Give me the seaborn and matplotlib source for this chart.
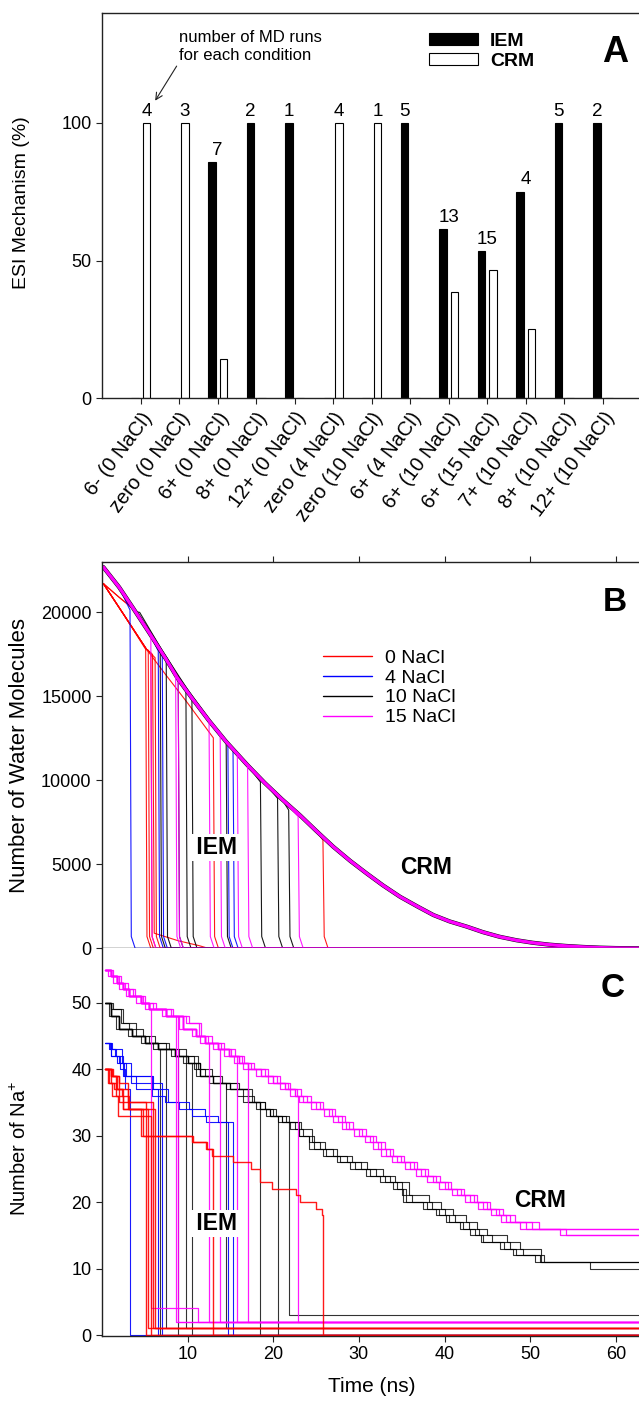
import numpy as np
import pandas as pd
import matplotlib
matplotlib.use('Agg')
import matplotlib.pyplot as plt
from matplotlib.patches import Patch
from matplotlib.lines import Line2D
import seaborn as sns

sns.set_style('ticks')
plt.rcParams['font.family'] = ['Liberation Sans', 'DejaVu Sans']
plt.rcParams['mathtext.default'] = 'regular'
plt.rcParams['text.color'] = 'black'
plt.rcParams['axes.labelcolor'] = 'black'
plt.rcParams['xtick.labelcolor'] = 'black'
plt.rcParams['ytick.labelcolor'] = 'black'

# ---------------- Panel A data ----------------
CONDITIONS = ['6- (0 NaCl)', 'zero (0 NaCl)', '6+ (0 NaCl)', '8+ (0 NaCl)', '12+ (0 NaCl)',
              'zero (4 NaCl)', 'zero (10 NaCl)', '6+ (4 NaCl)', '6+ (10 NaCl)', '6+ (15 NaCl)',
              '7+ (10 NaCl)', '8+ (10 NaCl)', '12+ (10 NaCl)']
IEM_PCT = [0, 0, 85.7, 100, 100, 0, 0, 100, 61.5, 53.3, 75, 100, 100]
CRM_PCT = [100, 100, 14.3, 0, 0, 100, 100, 0, 38.5, 46.7, 25, 0, 0]
N_RUNS = [4, 3, 7, 2, 1, 4, 1, 5, 13, 15, 4, 5, 2]

# ---------------- Panel B data (water molecules) ----------------
T_END = 63
MAIN_T = [0.15, 2.0, 3.65, 5.5, 7.5, 8.8, 10.5, 12.5, 14.5, 17.0, 19.0, 21.0, 23.1, 25.0, 27.0,
          29.0, 30.9, 32.8, 34.8, 36.8, 38.7, 40.6, 42.6, 44.5, 46.4, 48.4, 50.3, 52.2, 54.2,
          56.2, 58.1, 60.0, 62.0, 63.0]
MAIN_N = [22700, 21500, 20240, 18800, 17200, 16100, 14900, 13550, 12300, 10900, 9850, 8880,
          7930, 7000, 6050, 5200, 4460, 3750, 3070, 2500, 1980, 1600, 1290, 960, 690, 480,
          330, 220, 140, 80, 40, 15, 5, 0]
RED_LOW_T = [0.15, 2.5, 5.2, 7.5, 10.0, 13.0]
RED_LOW_N = [21720, 19900, 17800, 16250, 14600, 12530]
RED_UP_T = [0.15, 2.0, 3.8]
RED_UP_N = [21720, 20900, 20150]
BLACK_UP_T = [0.15, 2.0, 3.9, 4.4, 7.0, 10.0, 12.5]
BLACK_UP_N = [22700, 21500, 20050, 20000, 17750, 15400, 13650]
# foot of an IEM drop (time after drop, molecules)
FOOT_DT = [0.15, 0.6]
FOOT_N = [700, 0]
RED_TAIL_DT = [0.2, 3.0, 5.5, 6.5]
RED_TAIL_N = [900, 450, 150, 0]
RED_TAIL_RUN = 3

# IEM runs: drop times shared by B and C
RED_DROP = [5.1, 5.4, 5.7, 5.9, 6.2, 13.0, 25.8]
RED_TOP_B = [17800, 17750, 17600, 17500, 17300, 12530, 6440]
RED_BASE_B = ['low', 'low', 'low', 'low', 'low', 'low', 'up']
BLUE_DROP = [3.27, 6.57, 7.04, 14.7, 15.3]
BLUE_TOP_B = [20140, 17700, 17350, 12200, 11850]
BLACK_DROP = [6.8, 7.5, 8.9, 9.8, 10.5, 14.5, 18.5, 20.5, 21.8]
BLACK_TOP_B = [17600, 17060, 15850, 15275, 14880, 12300, 9900, 8930, 8230]
MAG_DROP = [5.7, 8.6, 8.9, 12.5, 13.8, 15.8, 17.0, 22.9]
MAG_TOP_B = [18700, 16150, 15970, 13550, 12800, 11600, 10910, 7850]

# ---------------- Panel C data (Na+ count) ----------------
RED_PRE_T = [[0.4, 0.8, 1.4, 2.0], [0.4, 1.0, 1.7, 2.4], [0.4, 0.7, 1.2, 1.9], [0.4, 1.2, 2.0, 3.0],
             [0.4, 1.0, 1.6, 2.3, 3.2], [0.4, 1.0, 1.6, 2.4, 4.6, 10.6, 12.3],
             [0.4, 1.3, 2.0, 3.0, 4.8, 10.5, 12.2, 12.8, 15.3, 17.4, 18.5, 19.8, 22.6, 23.1, 25.0, 25.7]]
RED_PRE_V = [[40, 38, 37, 35], [40, 39, 37, 34], [40, 38, 36, 33], [40, 39, 38, 35],
             [40, 39, 37, 36, 34], [40, 38, 36, 34, 30, 29, 28],
             [40, 39, 37, 34, 30, 29, 28, 27, 26, 25, 23, 22, 21, 20, 19, 18]]
RED_RESID = [0, 1, 0, 1, 1, 0, 0]

BLUE_PRE_T = [[0.4, 0.9, 1.5, 2.1, 2.7], [0.4, 1.0, 1.8, 2.6, 4.0], [0.4, 1.2, 2.3, 3.4],
              [0.4, 0.8, 1.6, 2.5, 5.8, 7.4, 9.0, 10.5, 12.2],
              [0.4, 1.1, 2.0, 2.8, 6.0, 7.7, 10.2, 12.0, 13.6]]
BLUE_PRE_V = [[44, 43, 42, 40, 37], [44, 42, 41, 39, 37], [44, 43, 41, 38],
              [44, 43, 42, 39, 36, 35, 34, 33, 32],
              [44, 42, 41, 39, 37, 35, 34, 33, 32]]
BLUE_RESID = [0, 0, 0, 0, 0]

BK_V1 = [50, 48, 46, 45, 44, 43, 42, 41, 39, 38, 37, 35, 34, 33, 32, 31, 30, 28, 27, 26,
         25, 24, 23, 22, 20, 19, 18, 17, 16, 15, 14, 13, 12, 11, 11]
BK_T1 = [0.3, 1.0, 2.0, 3.5, 5.0, 6.5, 8.5, 10.0, 11.5, 13.0, 15.0, 17.0, 18.5, 19.6, 21.0,
         22.5, 23.5, 24.7, 26.2, 27.8, 29.5, 31.3, 33.0, 34.4, 35.5, 37.9, 39.4, 40.5, 42.2,
         43.5, 44.5, 47.0, 48.4, 51.1, 63]
BK_T2 = [0.3, 0.8, 1.6, 3.0, 4.5, 6.0, 8.0, 9.5, 11.0, 12.5, 14.5, 16.5, 18.0, 19.2, 20.6,
         22.0, 23.0, 24.2, 25.8, 27.4, 29.0, 30.8, 32.5, 34.0, 35.2, 37.5, 39.0, 40.2, 41.8,
         43.0, 44.2, 46.5, 48.0, 50.6, 63]
BK_T3 = [0.3, 1.3, 2.5, 4.0, 5.5, 7.5, 9.0, 10.8, 12.0, 13.8, 15.8, 17.8, 19.0, 20.3, 21.8,
         23.0, 24.2, 25.5, 27.0, 28.6, 30.3, 32.0, 33.6, 35.0, 36.2, 38.5, 40.0, 41.2, 42.8,
         44.0, 45.5, 47.6, 49.2, 51.6, 57.0, 63]
BK_V3 = [50, 49, 47, 45, 44, 43, 42, 40, 39, 38, 36, 35, 34, 33, 32, 30, 29, 28, 27, 26,
         25, 24, 23, 21, 20, 19, 18, 17, 16, 15, 14, 13, 12, 11, 10, 10]
BK_T4 = [0.3, 1.1, 2.2, 3.2, 4.8, 6.2, 7.8, 9.8, 11.2, 12.8, 14.0, 16.0, 17.5, 19.0, 20.0,
         21.5, 23.2, 24.5, 26.0, 27.5, 29.2, 31.0, 32.8, 34.2, 35.8, 38.2, 39.6, 41.0, 42.5,
         43.8, 45.0, 47.3, 48.8, 51.3, 63]
BK_V4 = [50, 49, 47, 46, 45, 44, 43, 42, 40, 39, 38, 37, 35, 34, 33, 32, 31, 29, 28, 27,
         26, 25, 24, 23, 21, 20, 19, 18, 17, 16, 15, 14, 13, 11, 11]
BLACK_RESID = [0, 1, 0, 1, 0, 1, 0, 0, 3]

MG_T1 = [0.3, 1.0, 1.7, 2.4, 3.2, 4.5, 5.5, 7.5, 9.5, 11.0, 12.0, 13.5, 14.8, 16.0, 17.0,
         18.6, 20.0, 21.4, 22.5, 23.5, 25.0, 26.5, 27.6, 28.5, 30.0, 31.3, 32.2, 33.2, 34.5,
         36.0, 37.3, 38.6, 40.0, 41.5, 43.0, 44.5, 46.0, 47.2, 49.5, 54.2, 63]
MG_V1 = [55, 54, 53, 52, 51, 50, 49, 48, 46, 45, 44, 43, 42, 41, 40, 39, 38, 37, 36, 35,
         34, 33, 32, 31, 30, 29, 28, 27, 26, 25, 24, 23, 22, 21, 20, 19, 18, 17, 16, 15, 15]
MG_T2 = [0.3, 0.7, 1.3, 2.0, 2.8, 4.0, 5.0, 7.0, 9.0, 10.5, 11.5, 13.0, 14.2, 15.4, 16.5,
         18.0, 19.4, 20.8, 21.9, 23.0, 24.4, 25.9, 27.0, 28.0, 29.4, 30.7, 31.6, 32.6, 33.9,
         35.4, 36.7, 38.0, 39.4, 40.9, 42.4, 43.9, 45.4, 46.6, 48.8, 53.5, 63]
MG_T3 = [0.3, 1.3, 2.2, 3.0, 3.9, 5.0, 6.3, 8.3, 10.2, 11.6, 12.8, 14.2, 15.5, 16.6, 17.8,
         19.4, 20.8, 22.0, 23.2, 24.4, 25.8, 27.2, 28.4, 29.3, 30.8, 32.0, 33.0, 34.0, 35.3,
         36.8, 38.1, 39.5, 40.8, 42.3, 43.8, 45.3, 46.8, 48.2, 51.0, 63]
MG_V3 = [55, 54, 53, 52, 51, 50, 49, 48, 47, 45, 44, 43, 42, 41, 40, 39, 38, 37, 36, 35,
         34, 33, 32, 31, 30, 29, 28, 27, 26, 25, 24, 23, 22, 21, 20, 19, 18, 17, 16, 16]
MG_T4 = [0.3, 1.1, 2.0, 2.7, 3.6, 4.8, 6.0, 8.0, 9.8, 11.3, 12.4, 13.9, 15.1, 16.3, 17.4,
         19.0, 20.4, 21.7, 22.8, 23.9, 25.4, 26.8, 28.0, 28.9, 30.4, 31.6, 32.6, 33.6, 34.9,
         36.4, 37.7, 39.0, 40.4, 41.9, 43.4, 44.9, 46.4, 47.7, 50.2, 63]
MAG_RESID = [4, 2, 2, 2, 2, 2, 2, 2]
MAG_LATE_STEP = (11.2, 2)   # run 0 leaves 4 Na+ and drops to 2 later

RED, BLUE, MAG = '#ff0000', '#0000ff', '#ff00ff'


def b_path(base_t, base_n, t_drop, top, foot_dt=FOOT_DT, foot_n=FOOT_N):
    t = [x for x in base_t if x < t_drop] + [t_drop] + [t_drop + d for d in foot_dt] + [T_END]
    n = [y for x, y in zip(base_t, base_n) if x < t_drop] + [top] + list(foot_n) + [0]
    return t, n


def c_path(pre_t, pre_v, t_drop, resid):
    return list(pre_t) + [t_drop, T_END], list(pre_v) + [resid, resid]


def before(ts, vs, t_drop):
    keep = [i for i, x in enumerate(ts) if x < t_drop]
    return [ts[i] for i in keep], [vs[i] for i in keep]


def draw(ax, paths, color, steps=False, lw=0.8, alpha=0.9):
    rows = []
    for k, (ts, ys) in enumerate(paths):
        rows += [{'t': a, 'y': b, 'run': k} for a, b in zip(ts, ys)]
    df = pd.DataFrame(rows)
    sns.lineplot(data=df, x='t', y='y', units='run', estimator=None, color=color, ax=ax,
                 sort=False, legend=False, lw=lw, alpha=alpha,
                 drawstyle='steps-post' if steps else 'default')


fig = plt.figure(figsize=(6.39, 14.06), dpi=100)
W, H = 639, 1406
L, R = 102, 641.5
axA = fig.add_axes([L / W, 1 - 398.3 / H, (R - L) / W, (398.3 - 12.5) / H])
axB = fig.add_axes([L / W, 1 - 948.3 / H, (R - L) / W, (948.3 - 562) / H])
axC = fig.add_axes([L / W, 1 - 1336 / H, (R - L) / W, (1336 - 948.3) / H])

# ---------------- Panel A ----------------
df_a = pd.DataFrame({'cond': CONDITIONS * 2,
                     'mech': ['IEM'] * len(CONDITIONS) + ['CRM'] * len(CONDITIONS),
                     'pct': IEM_PCT + CRM_PCT})
sns.barplot(data=df_a, x='cond', y='pct', hue='mech', order=CONDITIONS, hue_order=['IEM', 'CRM'],
            palette={'IEM': 'black', 'CRM': 'white'}, edgecolor='black', linewidth=0.8,
            width=0.6, gap=0.35, saturation=1, errorbar=None, legend=False, ax=axA)
for i, n in enumerate(N_RUNS):
    iem, crm = IEM_PCT[i], CRM_PCT[i]
    if iem > 0 and crm > 0:
        x = i
    elif iem > 0:
        x = i - 0.15
    else:
        x = i + 0.15
    axA.text(x, max(iem, crm) + 2.6, str(n), ha='center', va='baseline', fontsize=13.5)
axA.annotate('number of MD runs\nfor each condition', xy=(0.38, 108), xytext=(0.99, 133.5),
             ha='left', va='top', fontsize=12,
             arrowprops=dict(arrowstyle='->', lw=0.8, color='#222222', shrinkA=0, shrinkB=0,
                             relpos=(0, 0)))
axA.set_xlim(-1, 13)
axA.set_ylim(0, 140)
axA.set_yticks([0, 50, 100])
axA.set_xlabel('')
axA.set_ylabel('ESI Mechanism (%)', fontsize=14)
axA.yaxis.set_label_coords(-0.134, 0.506)
plt.setp(axA.get_xticklabels(), rotation=53, ha='right', rotation_mode='anchor', fontsize=14.5)
axA.legend(handles=[Patch(facecolor='black', edgecolor='black', lw=0.8),
                    Patch(facecolor='white', edgecolor='black', lw=0.8)],
           labels=['IEM', 'CRM'], loc='upper left', bbox_to_anchor=(428.6 / W, 1 - 32.8 / H),
           bbox_transform=fig.transFigure, frameon=False, borderpad=0, borderaxespad=0,
           handlelength=2.52, handleheight=0.62, handletextpad=0.63, labelspacing=0.15,
           prop={'weight': 'bold', 'size': 14})

# ---------------- Panel B ----------------
red_crm = (RED_UP_T + [t for t in MAIN_T if t > 3.8],
           RED_UP_N + [n for t, n in zip(MAIN_T, MAIN_N) if t > 3.8])
black_up = (BLACK_UP_T + [t for t in MAIN_T if t > 12.5],
            BLACK_UP_N + [n for t, n in zip(MAIN_T, MAIN_N) if t > 12.5])
red_b = [red_crm]
for k, (td, top, base) in enumerate(zip(RED_DROP, RED_TOP_B, RED_BASE_B)):
    bt, bn = (RED_LOW_T, RED_LOW_N) if base == 'low' else red_crm
    if k == RED_TAIL_RUN:
        red_b.append(b_path(bt, bn, td, top, RED_TAIL_DT, RED_TAIL_N))
    else:
        red_b.append(b_path(bt, bn, td, top))
draw(axB, red_b, RED)
draw(axB, [(MAIN_T, MAIN_N)] + [b_path(MAIN_T, MAIN_N, td, top)
                                 for td, top in zip(BLUE_DROP, BLUE_TOP_B)], BLUE)
draw(axB, [black_up] + [b_path(MAIN_T, MAIN_N, td, top)
                        for td, top in zip(BLACK_DROP, BLACK_TOP_B)], 'black')
draw(axB, [(MAIN_T, MAIN_N)], 'black', lw=3.0, alpha=1)
draw(axB, [b_path(MAIN_T, MAIN_N, td, top) for td, top in zip(MAG_DROP, MAG_TOP_B)], MAG)
draw(axB, [(MAIN_T, MAIN_N)], MAG, lw=2.4, alpha=1)

axB.set_xlim(0, T_END)
axB.set_ylim(0, 23000)
axB.set_yticks([0, 5000, 10000, 15000, 20000])
axB.xaxis.tick_top()
axB.set_xticks([10, 20, 30, 40, 50, 60])
axB.tick_params(axis='x', labeltop=False, top=True, bottom=False)
axB.set_xlabel('')
axB.set_ylabel('Number of Water Molecules', fontsize=16)
axB.yaxis.set_label_coords(-0.134, 0.499)
axB.text(13.42, 5613, ' IEM ', ha='center', va='baseline', fontsize=16.5, weight='bold', zorder=5,
         bbox=dict(facecolor='white', edgecolor='none', pad=1.5))
axB.text(37.8, 4423, 'CRM', ha='center', va='baseline', fontsize=16.5, weight='bold', zorder=5)
axB.legend(handles=[Line2D([], [], color=c, lw=1) for c in [RED, BLUE, 'black', MAG]],
           labels=['0 NaCl', '4 NaCl', '10 NaCl', '15 NaCl'], loc='upper left',
           bbox_to_anchor=(323.3 / W, 1 - 649 / H), bbox_transform=fig.transFigure,
           frameon=False, borderpad=0, borderaxespad=0, handlelength=2.5, handletextpad=0.65,
           labelspacing=0.12, fontsize=14)

# ---------------- Panel C ----------------
black_c = [(BK_T1, BK_V1), (BK_T2, BK_V1), (BK_T3, BK_V3), (BK_T4, BK_V4)]
for td, res in zip(BLACK_DROP, BLACK_RESID):
    pt, pv = before(BK_T1, BK_V1, td)
    black_c.append(c_path(pt, pv, td, res))
draw(axC, black_c, 'black', steps=True, alpha=0.8)

draw(axC, [c_path(pt, pv, td, res) for pt, pv, td, res in
           zip(BLUE_PRE_T, BLUE_PRE_V, BLUE_DROP, BLUE_RESID)], BLUE, steps=True)

mag_c = [(MG_T1, MG_V1), (MG_T2, MG_V1), (MG_T3, MG_V3), (MG_T4, MG_V3)]
for k, (td, res) in enumerate(zip(MAG_DROP, MAG_RESID)):
    pt, pv = before(MG_T1, MG_V1, td)
    ts, vs = c_path(pt, pv, td, res)
    if k == 0:
        ts = ts[:-1] + [MAG_LATE_STEP[0], T_END]
        vs = vs[:-1] + [MAG_LATE_STEP[1], MAG_LATE_STEP[1]]
    mag_c.append((ts, vs))
draw(axC, mag_c, MAG, steps=True, lw=0.9)

draw(axC, [c_path(pt, pv, td, res) for pt, pv, td, res in
           zip(RED_PRE_T, RED_PRE_V, RED_DROP, RED_RESID)], RED, steps=True, lw=1.0)

axC.set_xlim(0, T_END)
axC.set_ylim(-0.15, 58.2)
axC.set_yticks([0, 10, 20, 30, 40, 50])
axC.set_xticks([10, 20, 30, 40, 50, 60])
axC.spines['top'].set_visible(False)
axC.set_xlabel('Time (ns)', fontsize=15, labelpad=10)
axC.set_ylabel('Number of Na$^{+}$', fontsize=14.5)
axC.yaxis.set_label_coords(-0.134, 0.485)
axC.text(13.42, 15.8, ' IEM ', ha='center', va='baseline', fontsize=16.5, weight='bold', zorder=5,
         bbox=dict(facecolor='white', edgecolor='none', pad=1.5))
axC.text(51.2, 19.3, 'CRM', ha='center', va='baseline', fontsize=16.5, weight='bold', zorder=5)

for ax in (axA, axB, axC):
    ax.spines['right'].set_visible(False)
    for s in ax.spines.values():
        s.set_linewidth(1.0)
        s.set_color('#222222')
    ax.tick_params(direction='out', length=4.5, width=0.8, labelsize=13, pad=3,
                   color='#222222')
axA.tick_params(axis='x', labelsize=14.5)

fig.text(615 / W, 1 - 61.7 / H, 'A', ha='center', va='baseline', fontsize=26, weight='bold')
fig.text(615 / W, 1 - 610.7 / H, 'B', ha='center', va='baseline', fontsize=24, weight='bold')
fig.text(613 / W, 1 - 997.3 / H, 'C', ha='center', va='baseline', fontsize=24, weight='bold')

fig.savefig('out.png', dpi=100)
